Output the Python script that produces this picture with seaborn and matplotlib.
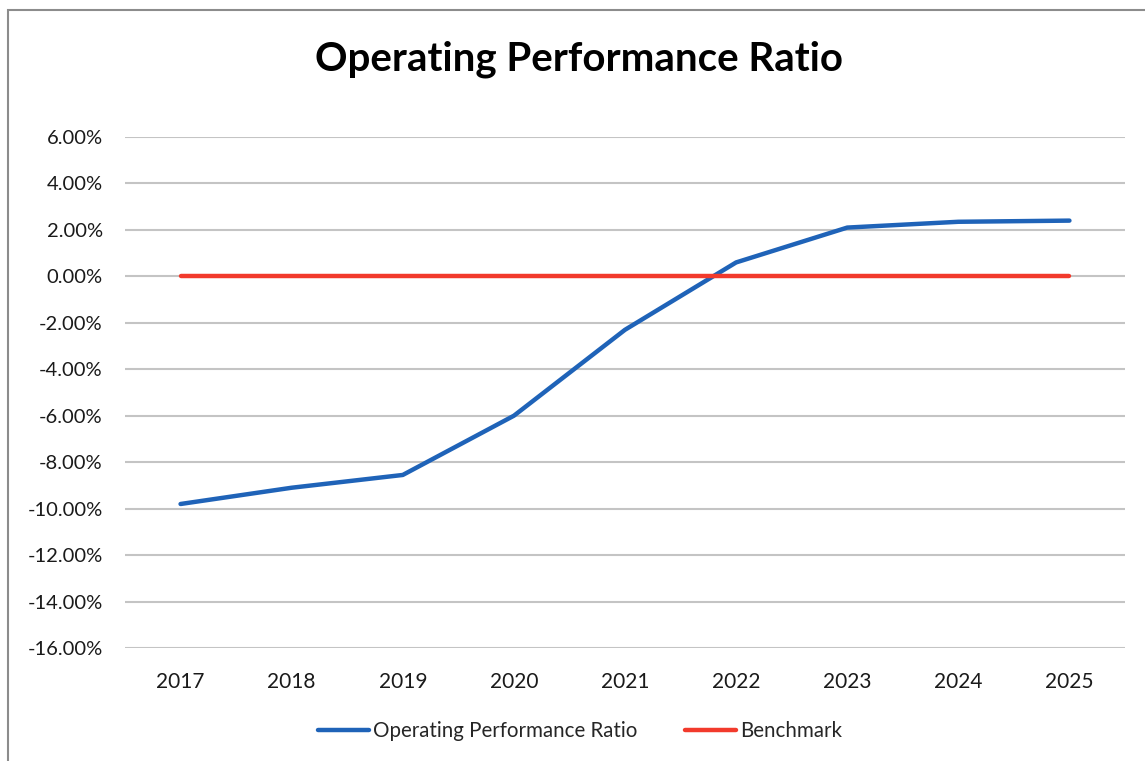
import matplotlib
matplotlib.use("Agg")
import matplotlib.pyplot as plt
from matplotlib.patches import Rectangle
from matplotlib.ticker import FuncFormatter
import pandas as pd
import seaborn as sns

years = ['2017', '2018', '2019', '2020', '2021', '2022', '2023', '2024', '2025']
ratio = [-9.8, -9.1, -8.55, -6.0, -2.3, 0.6, 2.1, 2.35, 2.4]
benchmark = [0, 0, 0, 0, 0, 0, 0, 0, 0]
yticks = [6, 4, 2, 0, -2, -4, -6, -8, -10, -12, -14, -16]

df = pd.DataFrame({'year': years * 2,
                   'value': ratio + benchmark,
                   'series': ['Operating Performance Ratio'] * len(years) + ['Benchmark'] * len(years)})

sns.set_style('white')
plt.rcParams['font.family'] = ['Lato', 'DejaVu Sans']

fig = plt.figure(figsize=(11.45, 7.61), dpi=100)
ax = fig.add_axes([125 / 1145, 113 / 761, 1000 / 1145, 511 / 761])

# chart frame
fig.patches.append(Rectangle((8 / 1145, -0.01), 1.2, (761 - 10) / 761 + 0.01,
                             transform=fig.transFigure, fill=False,
                             edgecolor='#8c8c8c', linewidth=1.5, zorder=0))

for t in yticks:
    ax.axhline(t, color='#c4c4c4', linewidth=1.5, zorder=0)

sns.lineplot(data=df, x='year', y='value', hue='series', ax=ax,
             palette={'Operating Performance Ratio': '#1f63b8', 'Benchmark': '#f23a2c'},
             linewidth=3.2, sort=False, legend=True)

ax.set_xlim(-0.5, 8.5)
ax.set_ylim(-16, 6)
ax.set_yticks(yticks)
ax.yaxis.set_major_formatter(FuncFormatter(lambda v, p: f'{v:.2f}%'))
ax.set_xlabel('')
ax.set_ylabel('')
for s in ax.spines.values():
    s.set_visible(False)
ax.tick_params(axis='y', length=0, pad=16, labelsize=14.5, labelcolor='#1a1a1a')
ax.tick_params(axis='x', length=0, pad=17, labelsize=15, labelcolor='#1a1a1a')

fig.text(0.506, 0.922, 'Operating Performance Ratio', ha='center', va='center',
         fontsize=29, fontweight='bold', color='black')

handles, labels = ax.get_legend_handles_labels()
ax.legend(handles, labels, loc='center', bbox_to_anchor=(0.455, (761 - 731 - 113) / 511),
          ncol=2, frameon=False, fontsize=14.8, handlelength=2.5, handletextpad=0.2,
          columnspacing=2.3)

fig.savefig('out.png', dpi=100)
